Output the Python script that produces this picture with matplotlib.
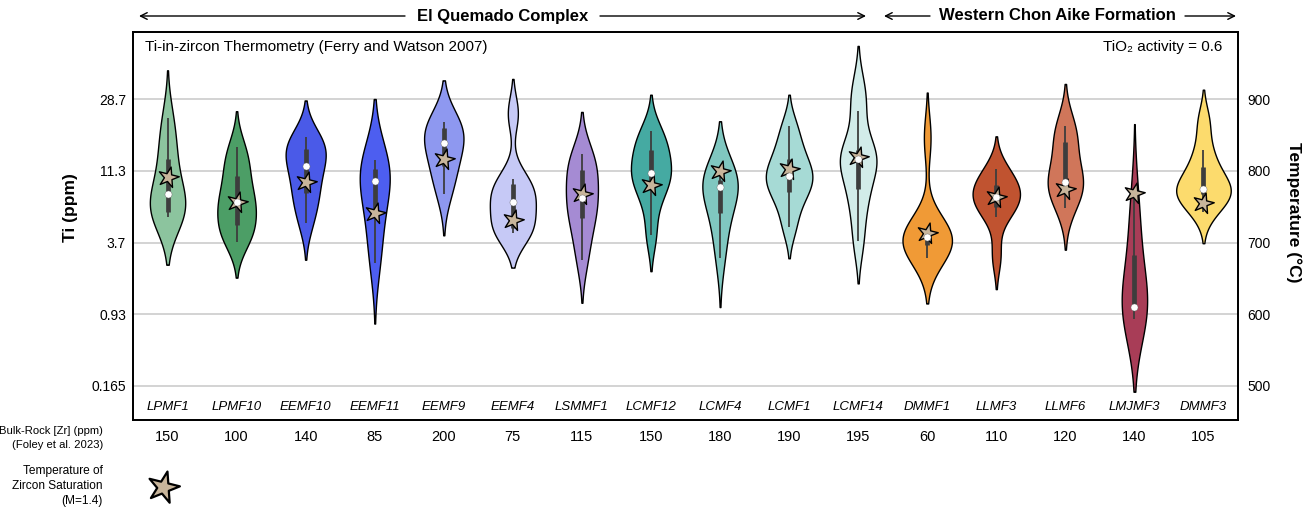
import numpy as np
import matplotlib
matplotlib.use('Agg')
import matplotlib.pyplot as plt
from matplotlib.markers import MarkerStyle
from matplotlib.transforms import Affine2D, blended_transform_factory
from matplotlib import cbook

plt.rcParams['font.family'] = ['Liberation Sans', 'DejaVu Sans']

# sample names, left to right
samples = ['LPMF1', 'LPMF10', 'EEMF10', 'EEMF11', 'EEMF9', 'EEMF4', 'LSMMF1', 'LCMF12',
           'LCMF4', 'LCMF1', 'LCMF14', 'DMMF1', 'LLMF3', 'LLMF6', 'LMJMF3', 'DMMF3']

# Ti-in-zircon temperatures (deg C), estimated from the violins
t_lpmf1 = [735, 740, 743, 752, 767, 785, 816, 840, 874]
t_lpmf10 = [701, 715, 724, 745, 757, 765, 792, 810, 833]
t_eemf10 = [727, 755, 769, 790, 807, 820, 831, 838, 847]
t_eemf11 = [672, 700, 736, 765, 786, 795, 803, 810, 815]
t_eemf9 = [768, 790, 806, 825, 839, 848, 859, 864, 868]
t_eemf4 = [713, 716, 720, 745, 757, 765, 782, 788, 880]
t_lsmmf1 = [675, 710, 734, 750, 762, 778, 801, 812, 823]
t_lcmf12 = [710, 755, 780, 790, 797, 810, 829, 840, 856]
t_lcmf4 = [678, 715, 741, 765, 778, 782, 787, 795, 801]
t_lcmf1 = [722, 755, 771, 785, 793, 800, 817, 835, 862]
t_lcmf14 = [702, 750, 775, 805, 817, 822, 829, 883, 915]
t_dmmf1 = [678, 690, 697, 703, 707, 711, 714, 717, 846]
t_llmf3 = [681, 736, 750, 758, 763, 770, 780, 790, 802]
t_llmf6 = [748, 770, 782, 783, 784, 810, 840, 852, 863]
t_lmjmf3 = [594, 605, 609, 609, 610, 640, 682, 720, 763]
t_dmmf3 = [743, 760, 768, 772, 774, 790, 805, 829, 869]

zircon_temps = [t_lpmf1, t_lpmf10, t_eemf10, t_eemf11, t_eemf9, t_eemf4, t_lsmmf1, t_lcmf12,
                t_lcmf4, t_lcmf1, t_lcmf14, t_dmmf1, t_llmf3, t_llmf6, t_lmjmf3, t_dmmf3]

# zircon saturation temperature (stars)
sat_temp = [791, 757, 785, 741, 817, 731, 768, 780, 800, 803, 819, 713, 763, 774, 769, 755]

# bulk-rock Zr (ppm)
bulk_zr = [150, 100, 140, 85, 200, 75, 115, 150, 180, 190, 195, 60, 110, 120, 140, 105]

# temperature ticks and the matching Ti values
temp_ticks = [500, 600, 700, 800, 900]
ti_labels = ['0.165', '0.93', '3.7', '11.3', '28.7']

# kde bandwidth (deg C) and max half width (category units) of each violin
kde_bw = [33, 25, 25.5, 42.5, 29, 24, 29.5, 25, 34, 22, 29.5, 31.5, 23, 29, 51, 22]
half_width = [0.256, 0.279, 0.29, 0.217, 0.285, 0.333, 0.232, 0.29,
              0.256, 0.337, 0.265, 0.358, 0.343, 0.256, 0.184, 0.395]

colors = ['#8cc49e', '#4c9e66', '#4a5ae8', '#4d5ef0', '#8e98f0', '#c6c9f6', '#a58bd3', '#45aaa2',
          '#80c7c0', '#a6dad5', '#d2ece9', '#f09a36', '#c05330', '#d0765a', '#a83d57', '#fcdb6d']

star_color = '#c8b59b'


def main():
    fig = plt.figure(figsize=(13.15, 5.15), dpi=100)
    ax = fig.add_axes([133 / 1315, 1 - 420 / 515, 1105 / 1315, 388 / 515])

    star = MarkerStyle('*', transform=Affine2D().rotate_deg(-14))

    for i, vals in enumerate(zircon_temps):
        vals = np.array(vals, dtype=float)
        bw = kde_bw[i]
        grid = np.linspace(vals.min() - 2 * bw, vals.max() + 2 * bw, 300)
        dens = np.exp(-0.5 * ((grid[:, None] - vals[None, :]) / bw) ** 2).sum(axis=1)
        half = dens / dens.max() * half_width[i]
        ax.fill_betweenx(grid, i - half, i + half, facecolor=colors[i],
                         edgecolor='black', linewidth=1.0, zorder=2)

        st = cbook.boxplot_stats(vals)[0]
        ax.vlines(i, st['whislo'], st['whishi'], color='#3d3d3d', lw=1.3, zorder=3)
        ax.vlines(i, st['q1'], st['q3'], color='#3d3d3d', lw=3.4, zorder=3)
        ax.scatter(i, sat_temp[i], marker=star, s=240, facecolor=star_color,
                   edgecolor='black', linewidth=1.0, zorder=4)
        ax.scatter(i, st['med'], s=26, color='white', edgecolor='#666666', linewidth=0.3, zorder=5)

    ax.set_xlim(-0.5, len(samples) - 0.5)
    ax.set_ylim(452.6, 993.4)
    ax.set_xticks([])
    ax.set_yticks(temp_ticks)
    ax.set_yticklabels(ti_labels, fontsize=10)
    ax.tick_params(axis='y', length=0, pad=5)
    ax.yaxis.grid(True, color='#c8c8c8', lw=1.1)
    ax.set_axisbelow(True)
    for sp in ax.spines.values():
        sp.set_linewidth(1.3)

    ax2 = ax.twinx()
    ax2.set_ylim(ax.get_ylim())
    ax2.set_yticks(temp_ticks)
    ax2.set_yticklabels([str(t) for t in temp_ticks], fontsize=10)
    ax2.tick_params(axis='y', length=0, pad=7)
    for sp in ax2.spines.values():
        sp.set_linewidth(1.3)

    # sample names inside the axes and Zr values below
    trans = blended_transform_factory(ax.transData, ax.transAxes)
    for i, name in enumerate(samples):
        ax.text(i, 0.033, name, transform=trans, ha='center', va='center',
                fontsize=9.5, style='italic')
        ax.text(i, -0.045, str(bulk_zr[i]), transform=trans, ha='center', va='center',
                fontsize=10.5, clip_on=False)

    ax.text(0.011, 0.961, 'Ti-in-zircon Thermometry (Ferry and Watson 2007)',
            transform=ax.transAxes, ha='left', va='center', fontsize=11)
    ax.text(0.986, 0.961, 'TiO\u2082 activity = 0.6', transform=ax.transAxes,
            ha='right', va='center', fontsize=11)

    fig.text(71 / 1315, 1 - 208 / 515, 'Ti (ppm)', rotation=90, ha='center', va='center',
             fontsize=12.5, fontweight='bold')
    fig.text(1294 / 1315, 1 - 212 / 515, 'Temperature (\u00b0C)', rotation=270,
             ha='center', va='center', fontsize=12.5, fontweight='bold')

    fig.text(103 / 1315, 1 - 438 / 515, 'Bulk-Rock [Zr] (ppm)\n(Foley et al. 2023)',
             ha='right', va='center', fontsize=8.1, linespacing=1.4)
    fig.text(103 / 1315, 1 - 486 / 515, 'Temperature of\nZircon Saturation\n(M=1.4)',
             ha='right', va='center', fontsize=8.6, linespacing=1.35)
    ax.scatter([163 / 1315], [1 - 487 / 515], transform=fig.transFigure, clip_on=False,
               marker=star, s=560, facecolor=star_color, edgecolor='black', linewidth=1.6)

    # group headers with arrows
    y_head = 1 - 16 / 515
    arrow = dict(arrowstyle='->', lw=1.0, color='black', mutation_scale=12, shrinkA=0, shrinkB=0)
    fig.text(503 / 1315, y_head, 'El Quemado Complex', ha='center', va='center',
             fontsize=12, fontweight='bold')
    ax.annotate('', xy=(139 / 1315, y_head), xytext=(405 / 1315, y_head),
                xycoords='figure fraction', arrowprops=arrow)
    ax.annotate('', xy=(866 / 1315, y_head), xytext=(600 / 1315, y_head),
                xycoords='figure fraction', arrowprops=arrow)
    fig.text(1057 / 1315, y_head, 'Western Chon Aike Formation', ha='center', va='center',
             fontsize=12, fontweight='bold')
    ax.annotate('', xy=(884 / 1315, y_head), xytext=(930 / 1315, y_head),
                xycoords='figure fraction', arrowprops=arrow)
    ax.annotate('', xy=(1236 / 1315, y_head), xytext=(1185 / 1315, y_head),
                xycoords='figure fraction', arrowprops=arrow)

    fig.savefig('out.png', dpi=100)


if __name__ == "__main__":
    main()
